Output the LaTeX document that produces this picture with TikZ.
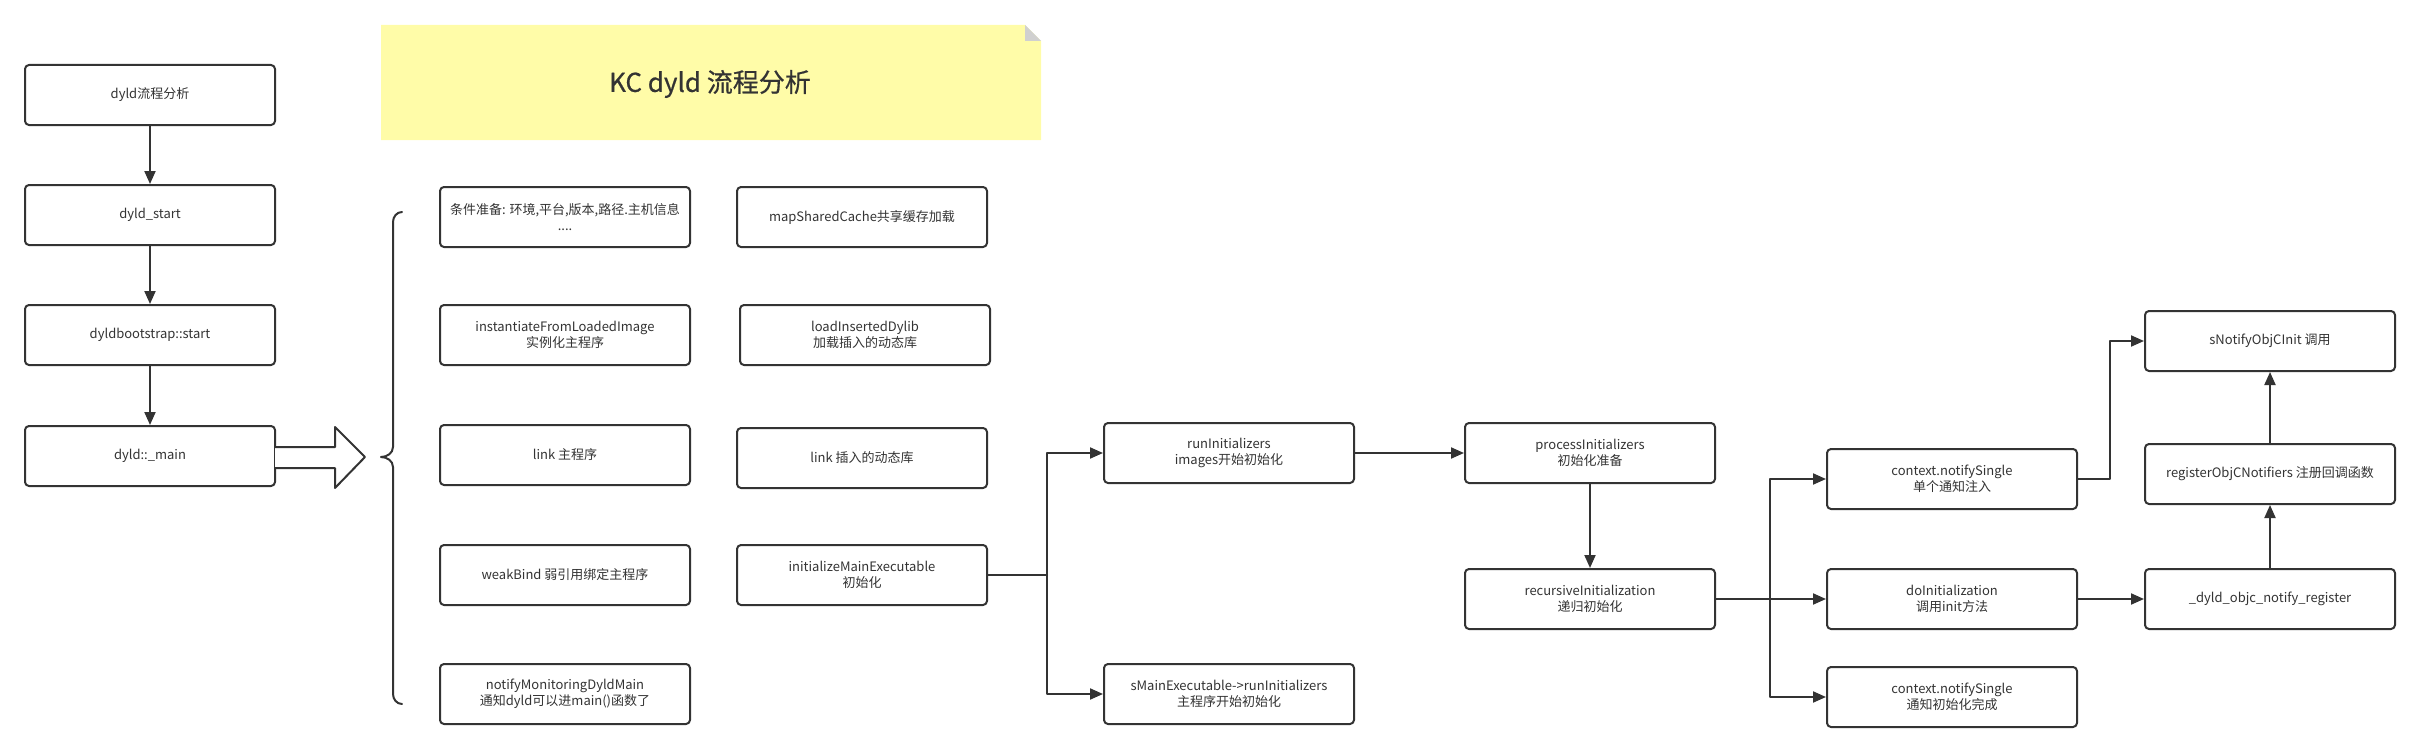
\documentclass[tikz,border=0pt]{standalone}
\usepackage{fontspec}
\newfontfamily\cjk{Noto Sans CJK SC}
\newfontfamily\titlefont{Noto Sans CJK SC}[FakeBold=0.6]
\usetikzlibrary{arrows.meta}
\definecolor{linecol}{HTML}{333333}
\definecolor{notefill}{HTML}{FFFCA8}
\definecolor{foldcol}{HTML}{D0D0D0}
\begin{document}
\begin{tikzpicture}[x=1pt,y=-1pt,line join = round, line cap=round,>={Triangle[length=13pt,width=11pt]},
    stepbox/.style={draw=linecol,line width=2pt,rounded corners=4pt,minimum width=250pt,minimum height=60pt,
        inner sep=0pt,align=center,text=linecol,font=\cjk\fontsize{13}{16}\selectfont},
    link/.style={draw=linecol,line width=2pt}]
    \useasboundingbox (0,0) rectangle (2421,752);
    % title note
    \fill[notefill] (381,25)--(1025,25)--(1041,41)--(1041,140)--(381,140)--cycle;
    \fill[foldcol] (1025,25)--(1041,41)--(1025,41)--cycle;
    \node[text=linecol,font=\titlefont\fontsize{26}{30}\selectfont] (title) at (710,84) {KC dyld 流程分析};
    % main chain
    \node[stepbox] (dyldflow) at (150,95) {dyld流程分析};
    \node[stepbox] (dyldstart) at (150,215) {dyld\_start};
    \node[stepbox] (bootstrap) at (150,335) {dyldbootstrap::start};
    \node[stepbox] (dyldmain) at (150,456) {dyld::\_main};
    \draw[link,->] (dyldflow)--(dyldstart);
    \draw[link,->] (dyldstart)--(bootstrap);
    \draw[link,->] (bootstrap)--(dyldmain);
    \draw[link,fill=white] (275,447)--(335,447)--(335,427)--(365,457)--(335,488)--(335,468)--(275,468);
    \draw[link] (402,212) to[out=180,in=90] (393,222) -- (393,447) to[out=-90,in=0] (381,457)
        to[out=0,in=90] (393,467) -- (393,694) to[out=-90,in=180] (402,704);
    % steps of _main
    \node[stepbox] (prepare) at (565,217) {条件准备: 环境,平台,版本,路径.主机信息\\....};
    \node[stepbox] (instantiate) at (565,335) {instantiateFromLoadedImage\\实例化主程序};
    \node[stepbox] (linkmain) at (565,455) {link 主程序};
    \node[stepbox] (weakbind) at (565,575) {weakBind 弱引用绑定主程序};
    \node[stepbox] (notifymain) at (565,694) {notifyMonitoringDyldMain\\通知dyld可以进main()函数了};
    \node[stepbox] (mapcache) at (862,217) {mapSharedCache共享缓存加载};
    \node[stepbox] (loaddylib) at (865,335) {loadInsertedDylib\\加载插入的动态库};
    \node[stepbox] (linkdylib) at (862,458) {link 插入的动态库};
    \node[stepbox] (initmain) at (862,575) {initializeMainExecutable\\初始化};
    % initializers
    \node[stepbox] (runinit) at (1229,453) {runInitializers\\images开始初始化};
    \node[stepbox] (smainrun) at (1229,694) {sMainExecutable->runInitializers\\主程序开始初始化};
    \node[stepbox] (procinit) at (1590,453) {processInitializers\\初始化准备};
    \node[stepbox] (recinit) at (1590,599) {recursiveInitialization\\递归初始化};
    \coordinate (split1) at (1047,575);
    \draw[link] (initmain)--(split1);
    \draw[link,->] (split1) |- (runinit);
    \draw[link,->] (split1) |- (smainrun);
    \draw[link,->] (runinit)--(procinit);
    \draw[link,->] (procinit)--(recinit);
    % notify
    \node[stepbox] (notifyone) at (1952,479) {context.notifySingle\\单个通知注入};
    \node[stepbox] (doinit) at (1952,599) {doInitialization\\调用init方法};
    \node[stepbox] (notifydone) at (1952,697) {context.notifySingle\\通知初始化完成};
    \node[stepbox] (snotify) at (2270,341) {sNotifyObjCInit 调用};
    \node[stepbox] (regnotif) at (2270,474) {registerObjCNotifiers 注册回调函数};
    \node[stepbox] (objcreg) at (2270,599) {\_dyld\_objc\_notify\_register};
    \coordinate (split2) at (1770,599);
    \coordinate (bend) at (2110,479);
    \draw[link] (recinit)--(split2);
    \draw[link,->] (split2) |- (notifyone);
    \draw[link,->] (split2)--(doinit);
    \draw[link,->] (split2) |- (notifydone);
    \draw[link,->] (notifyone)--(bend) |- (snotify);
    \draw[link,->] (doinit)--(objcreg);
    \draw[link,->] (objcreg)--(regnotif);
    \draw[link,->] (regnotif)--(snotify);
\end{tikzpicture}
\end{document}
